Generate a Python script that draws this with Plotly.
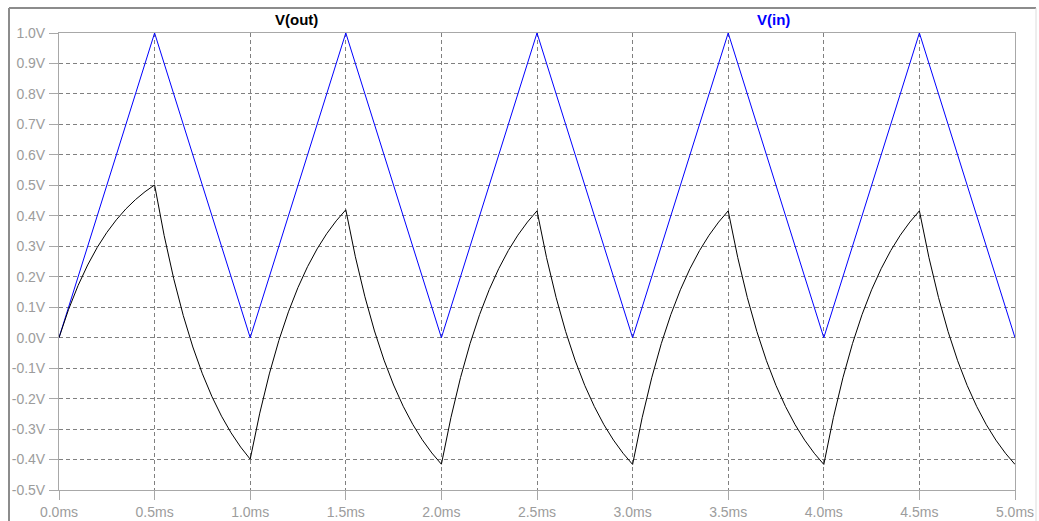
import plotly.graph_objects as go

# V(in): triangle wave corner points (ms, V)
vin_t = [0.0, 0.5, 1.0, 1.5, 2.0, 2.5, 3.0, 3.5, 4.0, 4.5, 5.0]
vin_v = [0.0, 1.0, 0.0, 1.0, 0.0, 1.0, 0.0, 1.0, 0.0, 1.0, 0.0]

vout_t = [round(i * 0.05, 2) for i in range(101)]
vout_v = [
    0.0, 0.0925, 0.1714, 0.2387, 0.2962, 0.3452, 0.3869, 0.4227, 0.4531, 0.4791, 0.5012,
    0.3351, 0.1935, 0.0726, -0.0306, -0.1186, -0.1936, -0.2577, -0.3124, -0.3590, -0.3988,
    -0.2478, -0.1190, -0.0090, 0.0848, 0.1649, 0.2331, 0.2914, 0.3411, 0.3835, 0.4197,
    0.2656, 0.1342, 0.0220, -0.0738, -0.1554, -0.2250, -0.2845, -0.3352, -0.3785, -0.4154,
    -0.2619, -0.1311, -0.0193, 0.0760, 0.1574, 0.2267, 0.2860, 0.3365, 0.3795, 0.4163,
    0.2627, 0.1317, 0.0199, -0.0756, -0.1570, -0.2263, -0.2857, -0.3362, -0.3793, -0.4161,
    -0.2625, -0.1316, -0.0197, 0.0757, 0.1571, 0.2264, 0.2857, 0.3363, 0.3794, 0.4162,
    0.2627, 0.1317, 0.0199, -0.0756, -0.1570, -0.2263, -0.2857, -0.3362, -0.3793, -0.4161,
    -0.2625, -0.1316, -0.0197, 0.0757, 0.1571, 0.2264, 0.2857, 0.3363, 0.3794, 0.4162,
    0.2627, 0.1317, 0.0199, -0.0756, -0.1570, -0.2263, -0.2857, -0.3362, -0.3793, -0.4161,
]

x_tickvals = [0.0, 0.5, 1.0, 1.5, 2.0, 2.5, 3.0, 3.5, 4.0, 4.5, 5.0]
x_ticktext = ["0.0ms", "0.5ms", "1.0ms", "1.5ms", "2.0ms", "2.5ms", "3.0ms", "3.5ms", "4.0ms", "4.5ms", "5.0ms"]
y_tickvals = [1.0, 0.9, 0.8, 0.7, 0.6, 0.5, 0.4, 0.3, 0.2, 0.1, 0.0, -0.1, -0.2, -0.3, -0.4, -0.5]
y_ticktext = ["1.0V", "0.9V", "0.8V", "0.7V", "0.6V", "0.5V", "0.4V", "0.3V", "0.2V", "0.1V",
              "0.0V", "-0.1V", "-0.2V", "-0.3V", "-0.4V", "-0.5V"]

fig = go.Figure()
fig.add_trace(go.Scatter(x=vin_t, y=vin_v, mode="lines", name="V(in)",
                         line=dict(color="#0000FF", width=1)))
fig.add_trace(go.Scatter(x=vout_t, y=vout_v, mode="lines", name="V(out)",
                         line=dict(color="#000000", width=1)))

tickfont = dict(family="Liberation Sans, Arial", size=14, color="#9C9C9C")
axis_common = dict(
    showline=True, mirror=True, linecolor="#A8A8A8", linewidth=1,
    showgrid=True, gridcolor="#808080", gridwidth=1, griddash="4px,3px",
    zeroline=False, ticks="outside", ticklen=9, tickcolor="#A8A8A8", tickwidth=1,
    tickfont=tickfont, automargin=False,
)

fig.update_xaxes(range=[0, 5], tickmode="array", tickvals=x_tickvals, ticktext=x_ticktext,
                 **axis_common)
fig.update_yaxes(range=[-0.5, 1.0], tickmode="array", tickvals=y_tickvals, ticktext=y_ticktext,
                 ticklabelstandoff=1, **axis_common)

PW, PH = 956, 457
fig.update_layout(
    width=1039, height=521,
    margin=dict(l=59, r=24, t=33, b=31, autoexpand=False),
    paper_bgcolor="white", plot_bgcolor="white",
    showlegend=False,
    annotations=[
        dict(text="<b>V(out)</b>", xref="paper", yref="paper", x=(296 - 59) / PW, y=1.0,
             xanchor="center", yanchor="middle", yshift=14, showarrow=False,
             font=dict(family="Liberation Sans, Arial", size=15, color="#000000")),
        dict(text="<b>V(in)</b>", xref="paper", yref="paper", x=(773 - 59) / PW, y=1.0,
             xanchor="center", yanchor="middle", yshift=14, showarrow=False,
             font=dict(family="Liberation Sans, Arial", size=15, color="#0000FF")),
    ],
    shapes=[
        # outer frame
        dict(type="line", xref="paper", yref="paper", x0=-50 / PW, x1=977 / PW,
             y0=1 + 25 / PH, y1=1 + 25 / PH, line=dict(color="#8C8C8C", width=2)),
        dict(type="line", xref="paper", yref="paper", x0=-50 / PW, x1=-50 / PW,
             y0=-31 / PH, y1=1 + 25 / PH, line=dict(color="#8C8C8C", width=2)),
        dict(type="line", xref="paper", yref="paper", x0=977 / PW, x1=977 / PW,
             y0=-31 / PH, y1=1 + 25 / PH, line=dict(color="#DCDCDC", width=1)),
    ],
)

fig.write_html("out.html")
